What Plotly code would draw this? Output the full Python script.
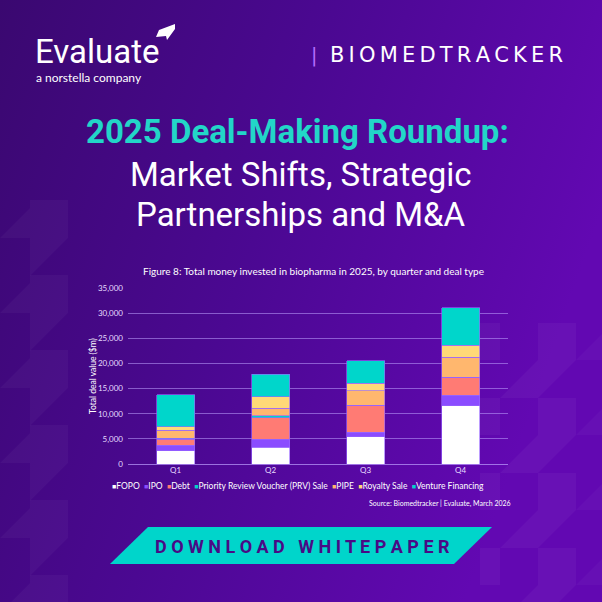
import base64
import plotly.graph_objects as go

# ---------------- data ----------------
quarters = ["Q1", "Q2", "Q3", "Q4"]
fopo = [2650, 3300, 5450, 11600]
ipo = [1050, 1600, 850, 2050]
debt = [1250, 4300, 5350, 3600]
prv = [200, 400, 0, 0]
pipe = [1550, 1500, 2950, 3950]
royalty = [700, 2300, 1500, 2400]
venture = [6350, 4450, 4450, 7450]

series_names = ["FOPO", "IPO", "Debt", "Priority Review Voucher (PRV) Sale",
                "PIPE", "Royalty Sale", "Venture Financing"]
series_values = [fopo, ipo, debt, prv, pipe, royalty, venture]
series_colors = ["#ffffff", "#8a4cff", "#ff7b74", "#00d3c9",
                 "#ffb76e", "#ffd977", "#00d6cb"]
y_ticks = [0, 5000, 10000, 15000, 20000, 25000, 30000, 35000]

# ---------------- layout geometry ----------------
W = H = 602
ML, MR, MT, MB = 128, 94, 288, 138
PW = W - ML - MR
PH = H - MT - MB


def px(x):
    return (x - ML) / PW


def py(y):
    return (H - MB - y) / PH


fig = go.Figure()
for name, vals, col in zip(series_names, series_values, series_colors):
    fig.add_trace(go.Bar(
        x=quarters, y=vals, name=name, width=0.4,
        marker=dict(color=col, line=dict(color="rgba(150,100,255,0.8)", width=0.8)),
        showlegend=False,
    ))

# background gradient + decorative shapes as svg image
deco = []
for k in range(6):
    y0 = 200 + 75 * k
    deco.append(f"<path d='M0 {y0+38} L30 {y0+8} L30 {y0} L68 {y0} L68 {y0+38} L30 {y0+76} L30 {y0+38} Z' fill='#ffffff' fill-opacity='0.035'/>")
for k in range(5):
    y0 = 323 + 75 * k
    deco.append(f"<rect x='480' y='{y0}' width='20' height='37' fill='#ffffff' fill-opacity='0.04'/>")
    deco.append(f"<path d='M500 {y0+75} L538 {y0+37} L538 {y0} L576 {y0} L576 {y0+37} L538 {y0+75} Z' fill='#ffffff' fill-opacity='0.04'/>")
    deco.append(f"<path d='M576 {y0+37} L602 {y0+11} L602 {y0+37} Z' fill='#ffffff' fill-opacity='0.03'/>")
svg = (
    "<svg xmlns='http://www.w3.org/2000/svg' width='602' height='602'>"
    "<defs><linearGradient id='g' x1='0' y1='0' x2='1' y2='0.35'>"
    "<stop offset='0' stop-color='#3a0870'/><stop offset='0.5' stop-color='#4b0892'/>"
    "<stop offset='1' stop-color='#6208b2'/></linearGradient></defs>"
    "<rect width='602' height='602' fill='url(#g)'/>" + "".join(deco) + "</svg>"
)
src = "data:image/svg+xml;base64," + base64.b64encode(svg.encode()).decode()
fig.add_layout_image(dict(source=src, xref="paper", yref="paper",
                          x=px(0), y=py(0), sizex=W / PW, sizey=H / PH,
                          xanchor="left", yanchor="top", sizing="stretch",
                          layer="below"))

shapes = []
# logo mark
logo = [(159, 30), (175, 24), (175, 29), (167, 40), (166, 36), (156, 37)]
shapes.append(dict(type="path", xref="paper", yref="paper",
                   path="M " + " L ".join(f"{px(a)} {py(b)}" for a, b in logo) + " Z",
                   fillcolor="#ffffff", line=dict(width=0)))
# button
btn = [(148, 527), (492, 527), (454, 564), (110, 564)]
shapes.append(dict(type="path", xref="paper", yref="paper",
                   path="M " + " L ".join(f"{px(a)} {py(b)}" for a, b in btn) + " Z",
                   fillcolor="#00d5cb", line=dict(width=0)))

ann = []


def add(text, x, y, size, color="#ffffff", family="Lato", xanchor="center", angle=0):
    ann.append(dict(text=text, x=px(x), y=py(y), xref="paper", yref="paper",
                    showarrow=False, xanchor=xanchor, yanchor="middle",
                    textangle=angle, font=dict(size=size, color=color, family=family)))


add("Evaluate", 33, 51, 33, family="Roboto", xanchor="left")
add("a norstella company", 34, 78, 12, family="Lato", xanchor="left")
add("<span style='color:#b46dff'>|</span>", 314, 55, 19, family="DejaVu Sans")
add("\u2009".join("BIOMEDTRACKER"), 328, 55, 21, family="DejaVu Sans", xanchor="left")
add("<b>2025 Deal-Making Roundup:</b>", 297, 131, 33, color="#22d6c8", family="Roboto")
add("Market Shifts, Strategic", 301, 174, 33, family="Roboto")
add("Partnerships and M&A", 301, 214, 33, family="Roboto")
add("Figure 8: Total money invested in biopharma in 2025, by quarter and deal type", 313, 271, 10)
add("Total deal value ($m)", 93, 376, 8.5, angle=-90)

leg_parts = []
for name, col in zip(series_names, series_colors):
    leg_parts.append(f"<span style='color:{col};font-size:7px'>\u25a0</span>{name}")
add("\u00a0\u00a0".join(leg_parts), 298, 486, 8.5)
add("Source: Biomedtracker | Evaluate, March 2026", 513, 503, 7, xanchor="right")
add("<b>" + "\u00a0\u00a0\u00a0".join(" ".join(w) for w in ["DOWNLOAD", "WHITEPAPER"]) + "</b>",
    302, 546, 18, color="#4a0a85", family="Roboto")

fig.update_layout(
    width=W, height=H,
    margin=dict(l=ML, r=MR, t=MT, b=MB, pad=0),
    paper_bgcolor="#4a0890", plot_bgcolor="rgba(0,0,0,0)",
    barmode="stack", bargap=0.6,
    shapes=shapes, annotations=ann,
    font=dict(family="Lato", color="#e6dcff"),
    xaxis=dict(showgrid=False, showline=False, zeroline=False, ticks="",
               tickfont=dict(size=8, color="#e6dcff"), range=[-0.5, 3.5]),
    yaxis=dict(range=[0, 35000], tickvals=y_ticks, tickformat=",",
               gridcolor="rgba(190,160,255,0.55)", gridwidth=1,
               zeroline=True, zerolinecolor="rgba(190,160,255,0.7)", zerolinewidth=1.2,
               showline=False, ticks="", ticklabelstandoff=4,
               tickfont=dict(size=8, color="#e6dcff")),
    showlegend=False,
)

fig.write_html("out.html")
